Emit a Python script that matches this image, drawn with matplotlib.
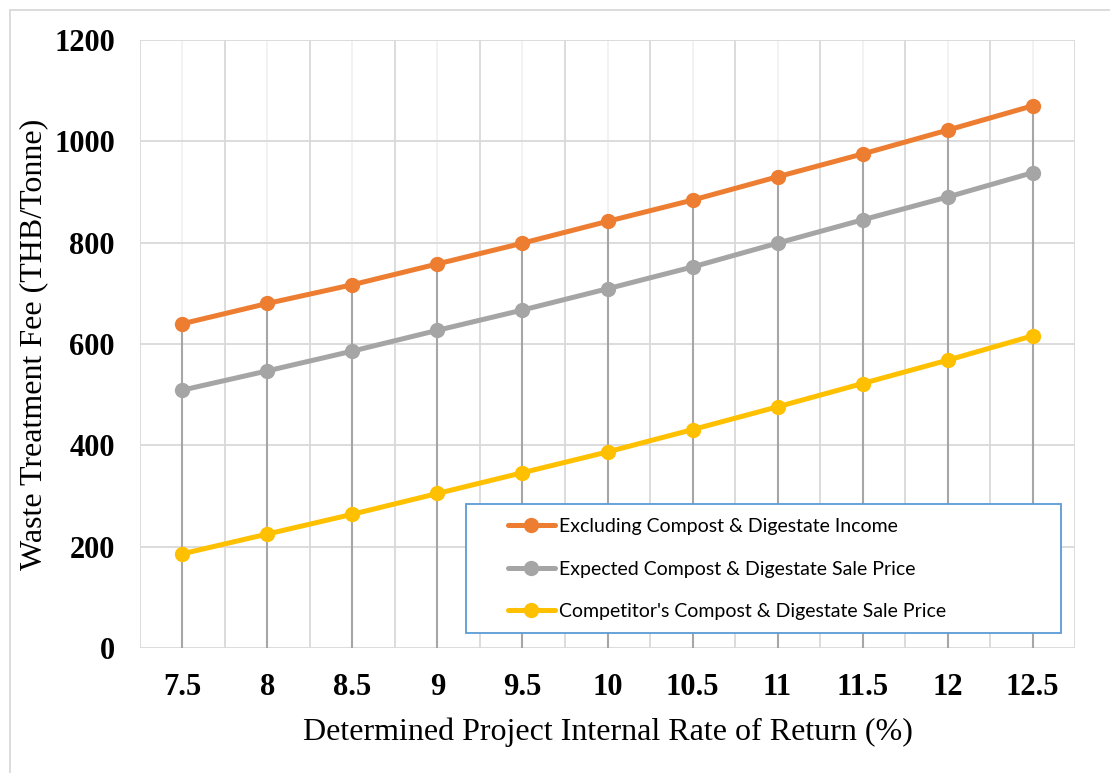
import numpy as np
import matplotlib.pyplot as plt
from matplotlib.patches import Rectangle

irr = ['7.5', '8', '8.5', '9', '9.5', '10', '10.5', '11', '11.5', '12', '12.5']
excl_income = [640, 680, 717, 758, 799, 842, 884, 930, 975, 1022, 1070]
expected_price = [509, 547, 586, 627, 667, 709, 752, 799, 845, 890, 938]
competitor_price = [186, 225, 264, 305, 346, 387, 431, 476, 522, 568, 616]

series = [
    ('Excluding Compost & Digestate Income', excl_income, '#ed7d31'),
    ('Expected Compost & Digestate Sale Price', expected_price, '#a5a5a5'),
    ("Competitor's Compost & Digestate Sale Price", competitor_price, '#ffc000'),
]

W, H = 1110, 773
fig = plt.figure(figsize=(W / 100, H / 100), dpi=100)
ax = fig.add_axes([0.1261, 0.1617, 0.8424, 0.7866])

x = np.arange(len(irr))

# gridlines: light at category centres, darker at category edges and every 200
for xc in x:
    ax.axvline(xc, color='#f0f0f0', lw=1.2, zorder=0)
for xb in np.arange(-0.5, len(irr), 1.0):
    ax.axvline(xb, color='#d9d9d9', lw=1.3, zorder=0)
for yv in range(0, 1201, 200):
    ax.axhline(yv, color='#d9d9d9', lw=1.3, zorder=0)

# drop lines from the axis up to the highest series
top = np.max([excl_income, expected_price, competitor_price], axis=0)
ax.vlines(x, 0, top, color='#a6a6a6', lw=1.5, zorder=1)

handles = []
for name, vals, col in series:
    h, = ax.plot(x, vals, color=col, lw=3.6, marker='o', ms=10, label=name,
                 solid_capstyle='round', zorder=3)
    handles.append(h)

ax.set_xlim(-0.5, len(irr) - 0.5)
ax.set_ylim(0, 1200)
ax.set_xticks(x)
ax.set_xticklabels(irr)
ax.set_yticks(range(0, 1201, 200))
for s in ax.spines.values():
    s.set_visible(False)
ax.tick_params(length=0)
ax.tick_params(axis='x', pad=18)
ax.tick_params(axis='y', pad=18)
for lab in ax.get_xticklabels() + ax.get_yticklabels():
    lab.set_fontfamily('Liberation Serif')
    lab.set_fontweight('bold')
    lab.set_fontsize(22)

ax.set_xlabel('Determined Project Internal Rate of Return (%)',
              family='Liberation Serif', fontsize=23, labelpad=11)
ax.set_ylabel('Waste Treatment Fee (THB/Tonne)',
              family='Liberation Serif', fontsize=23, labelpad=4)

# legend box
fig.patches.append(Rectangle((466 / W, (H - 633) / H), 595 / W, 129 / H,
                             transform=fig.transFigure, facecolor='white',
                             edgecolor='#5b9bd5', lw=1.3, zorder=3))
fig.legend(handles=handles, loc='center left',
           bbox_to_anchor=(508 / W, (H - 569) / H), frameon=False,
           prop={'family': 'Lato', 'size': 14}, handlelength=2.4,
           handletextpad=0.2, labelspacing=1.3, borderpad=0,
           borderaxespad=0).set_zorder(4)

# chart area border (only top and left fall inside the image)
fig.patches.append(Rectangle((10 / W, -0.05), 1.2, (H - 10) / H + 0.05,
                             transform=fig.transFigure, fill=False,
                             edgecolor='#d9d9d9', lw=1.3))

fig.savefig('out.png', dpi=100)
